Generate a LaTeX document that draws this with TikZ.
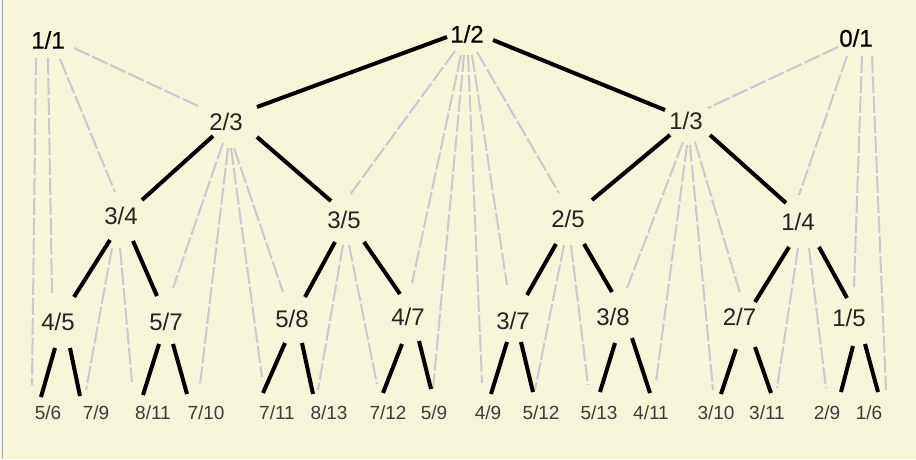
\documentclass[tikz,border=0pt]{standalone}
\usepackage{fontspec}
\setmainfont{Liberation Sans}
\newfontfamily\heavyfam[BoldFont={Liberation Sans},BoldFeatures={FakeBold=0.6}]{Liberation Sans}
\usetikzlibrary{calc}
\definecolor{bgyellow}{RGB}{246,245,216}
\definecolor{dashgray}{RGB}{200,200,206}
\definecolor{framecol}{RGB}{160,172,190}
\definecolor{midtext}{RGB}{36,36,36}
\definecolor{leaftext}{RGB}{60,60,60}
\newcommand\conn[5]{\draw[#1] ($(#2)+(#3)$) -- ($(#4)+(#5)$);}
\begin{document}
\begin{tikzpicture}[x=1pt,y=-1pt,
  frac/.style={inner sep=0pt, text height=17.2pt, text depth=0pt,
    font=\fontsize{24}{25}\selectfont, text=midtext},
  topfrac/.style={frac, text=black, font=\fontsize{24}{25}\heavyfam\bfseries},
  leaf/.style={inner sep=0pt, text height=13.6pt, text depth=0pt,
    font=\fontsize{19}{20}\selectfont, text=leaftext},
  treeedge/.style={draw=black, line width=4pt},
  farey/.style={draw=dashgray, line width=2pt, dash pattern=on 17pt off 3pt}]
\fill[bgyellow] (0,0) rectangle (916,459);
\useasboundingbox (0,0) rectangle (916,459);
\draw[framecol, line width=1.5pt] (2.5,0) -- (2.5,459);
% level 0
\node[topfrac] (n11) at (48,40) {1/1};
\node[topfrac] (n12) at (467,34) {1/2};
\node[topfrac] (n01) at (856,38) {0/1};
% level 1
\node[frac] (n23) at (226,121.5) {2/3};
\node[frac] (n13) at (686,121) {1/3};
% level 2
\node[frac] (n34) at (121,216) {3/4};
\node[frac] (n35) at (344,220) {3/5};
\node[frac] (n25) at (568,219) {2/5};
\node[frac] (n14) at (798,222) {1/4};
% level 3
\node[frac] (n45) at (58,322) {4/5};
\node[frac] (n57) at (166,322) {5/7};
\node[frac] (n58) at (292,319) {5/8};
\node[frac] (n47) at (408,317) {4/7};
\node[frac] (n37) at (513,321) {3/7};
\node[frac] (n38) at (613,317) {3/8};
\node[frac] (n27) at (739.5,317) {2/7};
\node[frac] (n15) at (849,318) {1/5};
% level 4
\node[leaf] (n56) at (48,413) {5/6};
\node[leaf] (n79) at (96,413) {7/9};
\node[leaf] (n811) at (153,413) {8/11};
\node[leaf] (n710) at (206,413) {7/10};
\node[leaf] (n711) at (277,413) {7/11};
\node[leaf] (n813) at (329,413) {8/13};
\node[leaf] (n712) at (388,413) {7/12};
\node[leaf] (n59) at (434,413) {5/9};
\node[leaf] (n49) at (488,413) {4/9};
\node[leaf] (n512) at (541,413) {5/12};
\node[leaf] (n513) at (599,413) {5/13};
\node[leaf] (n411) at (651,413) {4/11};
\node[leaf] (n310) at (716,413) {3/10};
\node[leaf] (n311) at (767,413) {3/11};
\node[leaf] (n29) at (827,413) {2/9};
\node[leaf] (n16) at (869,413) {1/6};
% dashed Farey-neighbour connectors
\conn{farey}{n11}{26,8}{n23}{-28,-15.5}
\conn{farey}{n11}{12,19}{n34}{-6,-24}
\conn{farey}{n11}{0,18}{n45}{-6,-29}
\conn{farey}{n11}{-12,18}{n56}{-16,-28}
\conn{farey}{n12}{-12,17}{n35}{5,-24}
\conn{farey}{n12}{-6,21}{n47}{4,-34}
\conn{farey}{n12}{-3,21}{n59}{-1,-24}
\conn{farey}{n12}{1,21}{n49}{-6,-30}
\conn{farey}{n12}{5,21}{n37}{-6,-36}
\conn{farey}{n12}{10,18}{n25}{-9,-26}
\conn{farey}{n01}{-18,9}{n13}{22,-13}
\conn{farey}{n01}{-9,18}{n14}{1,-27}
\conn{farey}{n01}{6,18}{n15}{5,-31}
\conn{farey}{n01}{16,18}{n16}{17,-23}
\conn{farey}{n23}{-3,21.5}{n57}{7,-34}
\conn{farey}{n23}{2,26.5}{n710}{-6,-28}
\conn{farey}{n23}{5,26.5}{n711}{-15,-36}
\conn{farey}{n23}{8,26.5}{n58}{-9,-27}
\conn{farey}{n13}{-3,21}{n38}{14,-29}
\conn{farey}{n13}{1,24}{n411}{5,-31}
\conn{farey}{n13}{4,24}{n310}{-3,-23}
\conn{farey}{n13}{9,21}{n27}{0.5,-24}
\conn{farey}{n34}{-9,32}{n79}{-10,-23}
\conn{farey}{n34}{-1,32}{n811}{-21,-31}
\conn{farey}{n35}{-1,25}{n813}{-11,-23}
\conn{farey}{n35}{5,25}{n712}{-11,-29}
\conn{farey}{n25}{-4,26}{n512}{-6,-23}
\conn{farey}{n25}{3,26}{n513}{-11,-28}
\conn{farey}{n14}{0,26}{n311}{10,-25}
\conn{farey}{n14}{11,26}{n29}{-1,-25}
% tree edges
\conn{treeedge}{n12}{-20,3}{n23}{31,-14.5}
\conn{treeedge}{n12}{26,6}{n13}{-21,-11}
\conn{treeedge}{n23}{-13,14.5}{n34}{21,-16}
\conn{treeedge}{n23}{31,15.5}{n35}{-13,-19}
\conn{treeedge}{n13}{-16,14}{n25}{24,-19}
\conn{treeedge}{n13}{24,14}{n14}{-12,-19}
\conn{treeedge}{n34}{-11,24}{n45}{16,-25}
\conn{treeedge}{n34}{12,25}{n57}{-9,-26}
\conn{treeedge}{n35}{-9,22}{n58}{13,-22}
\conn{treeedge}{n35}{20,22}{n47}{-8,-23}
\conn{treeedge}{n25}{-12,25}{n37}{14,-26}
\conn{treeedge}{n25}{16,25}{n38}{-1,-25}
\conn{treeedge}{n14}{-9,25}{n27}{15.5,-15}
\conn{treeedge}{n14}{21,25}{n15}{-2,-20}
\conn{treeedge}{n45}{-3,26}{n56}{-7,-16}
\conn{treeedge}{n45}{12,26}{n79}{-16,-17}
\conn{treeedge}{n57}{-7,22}{n811}{-10,-18}
\conn{treeedge}{n57}{7,22}{n710}{-19,-19}
\conn{treeedge}{n58}{-7,24}{n711}{-14,-20}
\conn{treeedge}{n58}{10,24}{n813}{-16,-19}
\conn{treeedge}{n47}{-6,27}{n712}{-5,-20}
\conn{treeedge}{n47}{11,24}{n59}{-3,-24}
\conn{treeedge}{n37}{-6,21}{n49}{3,-19}
\conn{treeedge}{n37}{8,21}{n512}{-8,-21}
\conn{treeedge}{n38}{2,26}{n513}{1,-21}
\conn{treeedge}{n38}{19,21}{n411}{-1,-20}
\conn{treeedge}{n27}{-3.5,32}{n310}{5,-19}
\conn{treeedge}{n27}{15.5,30}{n311}{4,-20}
\conn{treeedge}{n15}{4,28}{n29}{14,-21}
\conn{treeedge}{n15}{16,26}{n16}{9,-21}
\end{tikzpicture}
\end{document}
